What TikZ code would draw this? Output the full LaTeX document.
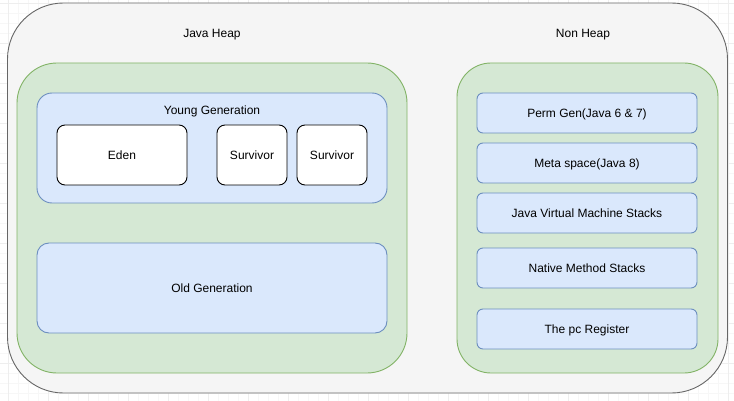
\documentclass[tikz,border=0pt]{standalone}
\usepackage{fontspec}
\setmainfont{Liberation Sans}
\definecolor{outerfill}{HTML}{F5F5F5}
\definecolor{outerdraw}{HTML}{666666}
\definecolor{greenfill}{HTML}{D5E8D4}
\definecolor{greendraw}{HTML}{82B366}
\definecolor{bluefill}{HTML}{DAE8FC}
\definecolor{bluedraw}{HTML}{6C8EBF}
\definecolor{gridminor}{HTML}{F7F7F7}
\definecolor{gridmajor}{HTML}{EEEEEE}
\tikzset{
  base/.style={inner sep=0pt, outer sep=0pt, line width=0.9pt},
  txt/.style={font=\fontsize{12}{14}\selectfont, text depth=0pt},
  outerbox/.style={base, fill=outerfill, draw=outerdraw, rounded corners=56pt},
  greenbox/.style={base, fill=greenfill, draw=greendraw, rounded corners=40pt},
  bluebox/.style={base, txt, fill=bluefill, draw=bluedraw},
  whitebox/.style={base, txt, fill=white, draw=black, rounded corners=8pt},
  lbl/.style={inner sep=0pt, txt}
}
\begin{document}
\begin{tikzpicture}[x=1pt,y=-1pt]
\useasboundingbox (0,0) rectangle (734,401);
% grid
\foreach \gx in {8,18,...,734} \draw[gridminor, line width=0.5pt] (\gx,0) -- (\gx,401);
\foreach \gy in {3,13,...,401} \draw[gridminor, line width=0.5pt] (0,\gy) -- (734,\gy);
\foreach \gx in {8,48,...,734} \draw[gridmajor, line width=0.5pt] (\gx,0) -- (\gx,401);
\foreach \gy in {3,43,...,401} \draw[gridmajor, line width=0.5pt] (0,\gy) -- (734,\gy);
% containers
\node[outerbox, minimum width=720pt, minimum height=390pt] (outer) at (367.5,198) {};
\node[greenbox, minimum width=390pt, minimum height=310pt] (heap) at (212,218) {};
\node[greenbox, rounded corners=34pt, minimum width=261pt, minimum height=310pt] (nonheap) at (587.5,218) {};
\node[lbl] (heaplbl) at (212,33) {Java Heap};
\node[lbl] (nonheaplbl) at (583,33) {Non Heap};
% young generation
\node[bluebox, rounded corners=15pt, minimum width=350pt, minimum height=110pt] (young) at (212,148) {};
\node[lbl] (younglbl) at (212,110) {Young Generation};
\node[whitebox, minimum width=130pt, minimum height=60pt] (eden) at (122,155) {Eden};
\node[whitebox, minimum width=70pt, minimum height=60pt] (surv1) at (252,155) {Survivor};
\node[whitebox, minimum width=70pt, minimum height=60pt] (surv2) at (332,155) {Survivor};
% old generation
\node[bluebox, rounded corners=12pt, minimum width=350pt, minimum height=90pt] (old) at (212,288) {Old Generation};
% non heap items
\node[bluebox, rounded corners=6pt, minimum width=220pt, minimum height=40pt] (perm) at (587,113) {Perm Gen(Java 6 \& 7)};
\node[bluebox, rounded corners=6pt, minimum width=220pt, minimum height=40pt] (meta) at (587,163) {Meta space(Java 8)};
\node[bluebox, rounded corners=6pt, minimum width=220pt, minimum height=40pt] (jvms) at (587,213) {Java Virtual Machine Stacks};
\node[bluebox, rounded corners=6pt, minimum width=220pt, minimum height=40pt] (nms) at (587,268) {Native Method Stacks};
\node[bluebox, rounded corners=6pt, minimum width=220pt, minimum height=40pt] (pc) at (587,329) {The pc Register};
\end{tikzpicture}
\end{document}
